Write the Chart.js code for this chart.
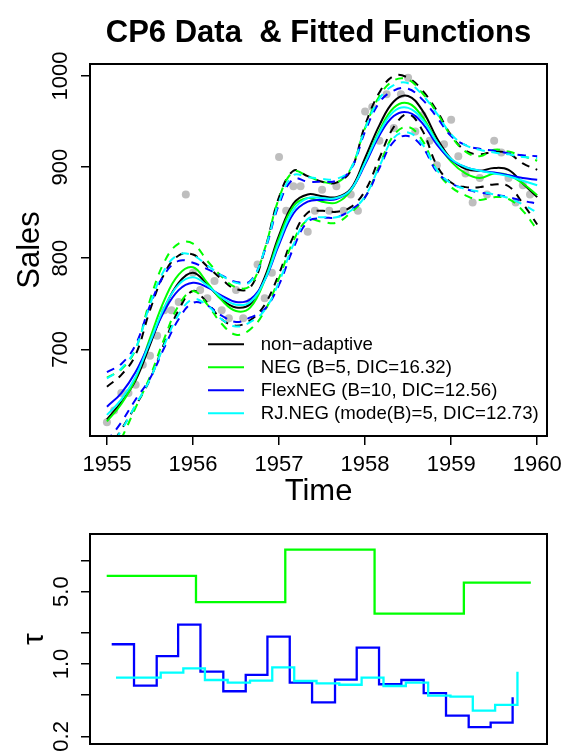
<!DOCTYPE html>
<html>
<head>
<meta charset="utf-8">
<script src="https://cdn.jsdelivr.net/npm/chart.js@4.4.0/dist/chart.umd.min.js"></script>
<style>
  body { margin: 0; background: #fff; }
  canvas { position: absolute; left: 0; }
  #topChart { top: 0; }
  #tauChart { top: 500px; }
</style>
</head>
<body>
<canvas id="topChart" width="567" height="500"></canvas>
<canvas id="tauChart" width="567" height="253"></canvas>
<script>
// monthly sales, Jan 1955 - Dec 1959
const startYear = 1955;
const sales = [
  620, 633, 652, 652, 661, 683, 693, 715, 743, 743, 752, 870,
  784, 765, 756, 775, 743, 734, 765, 734, 752, 793, 756, 784,
  911, 852, 879, 879, 829, 852, 875, 852, 879, 852, 870, 852,
  961, 966, 929, 980, 943, 980, 998, 939, 957, 929, 902, 925,
  952, 912, 893, 861, 888, 870, 929, 916, 888, 861, 880, 870
];

// fitted functions, read every two months
const fitTimes = [1955, 1955.167, 1955.333, 1955.5, 1955.667, 1955.833, 1956, 1956.167, 1956.333, 1956.5, 1956.667, 1956.833,
  1957, 1957.167, 1957.333, 1957.5, 1957.667, 1957.833, 1958, 1958.167, 1958.333, 1958.5, 1958.667, 1958.833,
  1959, 1959.167, 1959.333, 1959.5, 1959.667, 1959.833, 1960];

const blackMean = [623, 642, 666, 705, 745, 773, 784, 771, 755, 746, 750, 779, 825, 860, 870, 868, 867, 876, 910, 946, 972, 978, 962, 932, 909, 898, 896, 899, 897, 882, 867];
const blackUp   = [659, 672, 694, 743, 783, 803, 804, 791, 777, 766, 768, 809, 867, 896, 890, 884, 883, 896, 946, 982, 1000, 998, 984, 962, 935, 918, 914, 917, 915, 904, 897];
const blackLow  = [587, 612, 638, 667, 707, 743, 764, 751, 733, 726, 732, 749, 783, 824, 850, 852, 851, 856, 874, 910, 944, 958, 940, 902, 883, 878, 878, 881, 879, 860, 837];

const greenMean = [621, 640, 668, 712, 754, 782, 790, 773, 754, 742, 746, 776, 822, 857, 866, 862, 861, 874, 905, 940, 965, 970, 955, 928, 906, 893, 888, 893, 891, 882, 869];
const greenUp   = [669, 678, 700, 754, 796, 816, 816, 797, 780, 768, 770, 810, 866, 895, 890, 884, 883, 898, 943, 978, 995, 996, 981, 960, 934, 917, 912, 919, 917, 912, 907];
const greenLow  = [573, 602, 636, 670, 712, 748, 764, 749, 728, 716, 722, 742, 778, 819, 842, 840, 839, 850, 867, 902, 935, 944, 929, 896, 878, 869, 864, 867, 865, 852, 831];

const blueMean = [637, 652, 675, 708, 742, 765, 773, 768, 759, 752, 755, 776, 815, 849, 862, 864, 865, 875, 903, 935, 956, 960, 948, 925, 908, 900, 896, 894, 891, 888, 886];
const blueUp   = [675, 684, 705, 748, 782, 797, 795, 788, 781, 774, 775, 808, 859, 887, 884, 884, 885, 897, 939, 971, 984, 986, 974, 955, 934, 924, 920, 918, 915, 913, 912];
const blueLow  = [599, 620, 645, 668, 702, 733, 751, 748, 737, 730, 735, 744, 771, 811, 840, 844, 845, 853, 867, 899, 928, 934, 922, 895, 882, 876, 872, 870, 867, 863, 860];

const cyanMean = [628, 645, 670, 708, 746, 771, 779, 770, 757, 749, 752, 776, 818, 853, 866, 866, 866, 875, 905, 938, 961, 965, 952, 928, 909, 900, 896, 893, 890, 885, 880];
const cyanUp   = [668, 679, 701, 749, 787, 804, 803, 792, 781, 773, 774, 809, 862, 891, 889, 887, 887, 898, 942, 975, 990, 992, 979, 959, 936, 924, 919, 916, 914, 911, 910];
const cyanLow  = [588, 611, 639, 667, 705, 738, 755, 748, 733, 725, 730, 743, 774, 815, 843, 845, 845, 852, 868, 901, 932, 938, 925, 897, 882, 876, 873, 870, 866, 859, 850];

const xTicks = [1955, 1956, 1957, 1958, 1959, 1960];
const yTicks = [700, 800, 900, 1000];

const legendLabels = ["non\u2212adaptive", "NEG (B=5, DIC=16.32)", "FlexNEG (B=10, DIC=12.56)", "RJ.NEG (mode(B)=5, DIC=12.73)"];
const legendColors = ["#000000", "#00ff00", "#0000ff", "#00ffff"];

// tau step functions
const tauGreenT = [1955, 1956, 1957, 1958, 1959, 1959.75];
const tauGreen  = [7.08, 3.95, 12.7, 3.06, 6.1, 6.1];
const tauBlueT  = [1955.056, 1955.306, 1955.56, 1955.80, 1956.05, 1956.306, 1956.557, 1956.80, 1957.05, 1957.30,
  1957.557, 1957.80, 1958.05, 1958.30, 1958.55, 1958.80, 1959.054, 1959.30, 1959.546];
const tauBlue   = [1.55, 0.617, 1.19, 2.40, 0.843, 0.545, 0.783, 1.84, 0.66, 0.426,
  0.705, 1.44, 0.637, 0.70, 0.524, 0.317, 0.245, 0.271, 0.477];
const tauCyanT  = [1955.104, 1955.605, 1955.858, 1956.10, 1956.355, 1956.605, 1956.854, 1957.10, 1957.35,
  1957.605, 1957.855, 1958.10, 1958.35, 1958.60, 1958.85, 1959.10, 1959.35, 1959.60];
const tauCyan   = [0.737, 0.824, 0.908, 0.70, 0.66, 0.69, 0.929, 0.685, 0.65,
  0.63, 0.737, 0.613, 0.66, 0.494, 0.483, 0.354, 0.402, 0.843];
const tauTicks = [0.2, 0.5, 1, 2, 5, 10];
const tauTickLabels = { 0.2: "0.2", 1: "1.0", 5: "5.0" };

const FONT = '"Liberation Sans", Arial, Helvetica, sans-serif';

function vText(ctx, text, x, y, font) {
  ctx.save();
  ctx.translate(x, y);
  ctx.rotate(-Math.PI / 2);
  ctx.font = font;
  ctx.textAlign = "center";
  ctx.textBaseline = "alphabetic";
  ctx.fillText(text, 0, 0);
  ctx.restore();
}

function fitLine(values, color, dashed, order) {
  return {
    data: values.map((v, i) => ({ x: fitTimes[i], y: v })),
    showLine: true,
    borderColor: color,
    borderWidth: 2,
    borderDash: dashed ? [8, 7] : [],
    pointRadius: 0,
    tension: 0.4,
    order: order
  };
}

function stepLine(xs, values, color) {
  return {
    data: values.map((v, i) => ({ x: xs[i], y: v })),
    showLine: true,
    stepped: true,
    borderColor: color,
    borderWidth: 2.3,
    pointRadius: 0
  };
}

const tickGrid = { drawOnChartArea: false, drawTicks: true, tickLength: 9, color: "#000", lineWidth: 1.5 };

const topDecor = {
  id: "topDecor",
  afterDraw(chart) {
    const ctx = chart.ctx;
    const a = chart.chartArea;
    const xs = chart.scales.x, ys = chart.scales.y;
    ctx.save();
    ctx.strokeStyle = "#000";
    ctx.lineWidth = 2;
    ctx.strokeRect(a.left, a.top, a.right - a.left, a.bottom - a.top);
    ctx.fillStyle = "#000";
    ctx.font = "22px " + FONT;
    ctx.textAlign = "center";
    ctx.textBaseline = "alphabetic";
    xTicks.forEach(v => ctx.fillText(String(v), xs.getPixelForValue(v), 471));
    yTicks.forEach(v => vText(ctx, String(v), 67, ys.getPixelForValue(v), "22px " + FONT));
    ctx.font = "31px " + FONT;
    ctx.fillText("Time", (a.left + a.right) / 2, 501);
    vText(ctx, "Sales", 38.5, (a.top + a.bottom) / 2, "31px " + FONT);
    ctx.font = "bold 31px " + FONT;
    ctx.fillText("CP6 Data  & Fitted Functions", (a.left + a.right) / 2, 42);
    // legend
    ctx.font = "18.6px " + FONT;
    ctx.textAlign = "left";
    ctx.textBaseline = "middle";
    legendLabels.forEach((lab, i) => {
      const y = 344.3 + i * 23;
      ctx.strokeStyle = legendColors[i];
      ctx.lineWidth = 2;
      ctx.beginPath();
      ctx.moveTo(208, y);
      ctx.lineTo(244, y);
      ctx.stroke();
      ctx.fillText(lab, 260.7, y + 1);
    });
    ctx.restore();
  }
};

new Chart(document.getElementById("topChart"), {
  type: "scatter",
  data: {
    datasets: [
      fitLine(cyanMean, "#00ffff", false, 1),
      fitLine(cyanUp, "#00ffff", true, 1),
      fitLine(cyanLow, "#00ffff", true, 1),
      fitLine(blueMean, "#0000ff", false, 2),
      fitLine(blueUp, "#0000ff", true, 2),
      fitLine(blueLow, "#0000ff", true, 2),
      fitLine(greenMean, "#00ff00", false, 3),
      fitLine(greenUp, "#00ff00", true, 3),
      fitLine(greenLow, "#00ff00", true, 3),
      fitLine(blackMean, "#000000", false, 4),
      fitLine(blackUp, "#000000", true, 4),
      fitLine(blackLow, "#000000", true, 4),
      {
        data: sales.map((v, i) => ({ x: startYear + i / 12, y: v })),
        pointRadius: 4,
        pointBackgroundColor: "#bebebe",
        pointBorderWidth: 0,
        showLine: false,
        order: 10
      }
    ]
  },
  options: {
    responsive: false,
    animation: false,
    layout: { padding: { top: 64, right: 20, left: 0, bottom: 0 } },
    plugins: { legend: { display: false }, tooltip: { enabled: false } },
    scales: {
      x: {
        type: "linear", min: 1954.803, max: 1960.114,
        afterBuildTicks: s => { s.ticks = xTicks.map(v => ({ value: v })); },
        afterFit: s => { s.height = 64; },
        ticks: { display: false },
        grid: tickGrid,
        border: { display: true, color: "#000", width: 2 }
      },
      y: {
        type: "linear", min: 604.88, max: 1013.12,
        afterBuildTicks: s => { s.ticks = yTicks.map(v => ({ value: v })); },
        afterFit: s => { s.width = 90; },
        ticks: { display: false },
        grid: tickGrid,
        border: { display: true, color: "#000", width: 2 }
      }
    }
  },
  plugins: [topDecor]
});

const tauDecor = {
  id: "tauDecor",
  afterDraw(chart) {
    const ctx = chart.ctx;
    const a = chart.chartArea;
    const ys = chart.scales.y;
    ctx.save();
    ctx.strokeStyle = "#000";
    ctx.lineWidth = 2;
    ctx.strokeRect(a.left, a.top, a.right - a.left, a.bottom - a.top);
    ctx.fillStyle = "#000";
    tauTicks.forEach(v => {
      if (tauTickLabels[v]) vText(ctx, tauTickLabels[v], 68, ys.getPixelForValue(v), "22px " + FONT);
    });
    vText(ctx, "\u03c4", 43, (a.top + a.bottom) / 2, "30px " + FONT);
    ctx.restore();
  }
};

new Chart(document.getElementById("tauChart"), {
  type: "scatter",
  data: {
    datasets: [
      stepLine(tauCyanT, tauCyan, "#00ffff"),
      stepLine(tauBlueT, tauBlue, "#0000ff"),
      stepLine(tauGreenT, tauGreen, "#00ff00")
    ]
  },
  options: {
    responsive: false,
    animation: false,
    layout: { padding: { top: 34, right: 20, left: 0, bottom: 9 } },
    plugins: { legend: { display: false }, tooltip: { enabled: false } },
    scales: {
      x: { type: "linear", min: 1954.813, max: 1959.931, display: false },
      y: {
        type: "logarithmic", min: 0.1687, max: 18.0,
        afterBuildTicks: s => { s.ticks = tauTicks.map(v => ({ value: v })); },
        afterFit: s => { s.width = 90; },
        ticks: { display: false },
        grid: tickGrid,
        border: { display: true, color: "#000", width: 2 }
      }
    }
  },
  plugins: [tauDecor]
});
</script>
</body>
</html>
